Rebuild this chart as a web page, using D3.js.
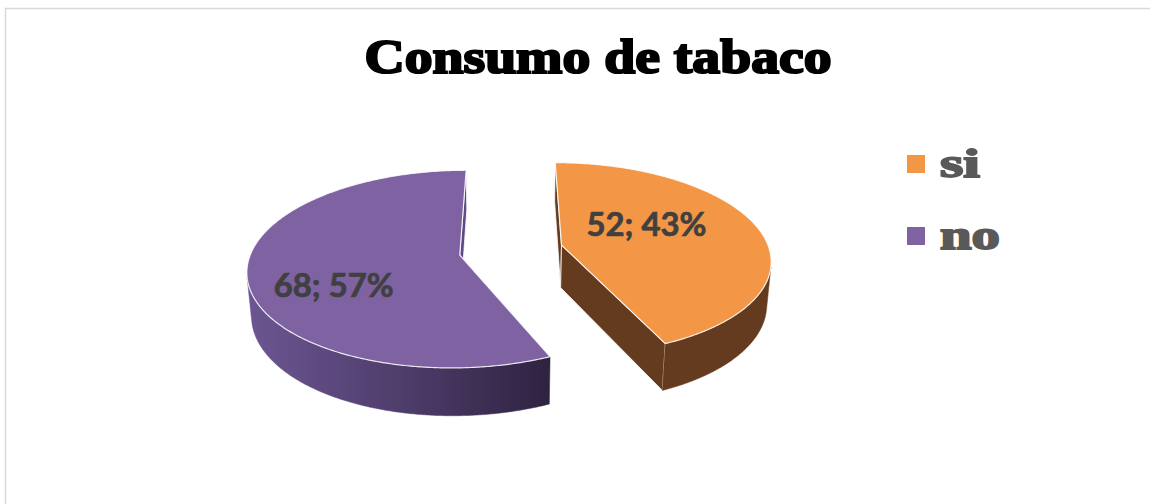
<!DOCTYPE html>
<html>
<head>
<meta charset="utf-8">
<script src="https://cdn.jsdelivr.net/npm/d3@7"></script>
<style>
    html, body { margin: 0; padding: 0; background: #fff; }
    svg { display: block; }
</style>
</head>
<body>
<script>
// data
const categories = ['si', 'no'];
const values = [52, 68];
const title = 'Consumo de tabaco';

// colours per slice (top, side)
const topColors = ['#F39645', '#7E62A1'];
const sideColors = ['#643B1E', '#5E4A86'];
const labelRadius = [0.49, 0.64];

const width = 1150,
    height = 504;

const svg = d3.select('body').append('svg')
    .attr('width', width)
    .attr('height', height);

// chart border (cropped)
svg.append('rect')
    .attr('x', 5.5).attr('y', 8.5)
    .attr('width', 1160).attr('height', 510)
    .attr('fill', 'none')
    .attr('stroke', '#d9d9d9')
    .attr('stroke-width', 1.5);

// gradient for the purple wall
const defs = svg.append('defs');
const grad = defs.append('linearGradient')
    .attr('id', 'wallNo')
    .attr('gradientUnits', 'userSpaceOnUse')
    .attr('x1', 247).attr('y1', 0)
    .attr('x2', 552).attr('y2', 0);
grad.append('stop').attr('offset', '0%').attr('stop-color', '#6C5692');
grad.append('stop').attr('offset', '50%').attr('stop-color', '#4F3D6C');
grad.append('stop').attr('offset', '100%').attr('stop-color', '#2E2240');

// 3d projection
const R = 208, thick = 49, explode = 52;
const phi = 27.3 * Math.PI / 180, L = 1305;
const cx = 511, cy = 250;
const camZ = -L * Math.cos(phi);

function proj(X, Y, Z) {
    let yc = Y * Math.cos(phi) + Z * Math.sin(phi);
    let dc = L + Z * Math.cos(phi) - Y * Math.sin(phi);
    return [cx + L * X / dc, cy - L * yc / dc];
}

const pie = d3.pie().sort(null).value(d => d);
const arcs = pie(values);
const total = d3.sum(values);
const line = d3.line();
const step = Math.PI / 360;

arcs.forEach((d, i) => {
    let mid = (d.startAngle + d.endAngle) / 2;
    let ox = explode * Math.sin(mid),
        oz = explode * Math.cos(mid);
    let rim = (t, y) => proj(ox + R * Math.sin(t), y, oz + R * Math.cos(t));
    let center = y => proj(ox, y, oz);
    let g = svg.append('g');

    // radial faces
    let faces = [
        {a: d.startAngle, n: [-Math.cos(d.startAngle), Math.sin(d.startAngle)]},
        {a: d.endAngle, n: [Math.cos(d.endAngle), -Math.sin(d.endAngle)]}
    ];
    faces.forEach(f => {
        let dot = f.n[0] * (0 - ox) + f.n[1] * (camZ - oz);
        if (dot <= 0) return;
        let pts = [center(0), rim(f.a, 0), rim(f.a, -thick), center(-thick)];
        g.append('path')
            .attr('d', line(pts) + 'Z')
            .attr('fill', sideColors[i])
            .attr('stroke', '#fff')
            .attr('stroke-width', 1)
            .attr('stroke-opacity', 0.8);
    });

    // outer wall, only the part that faces the viewer
    let visible = t => {
        let px = ox + R * Math.sin(t), pz = oz + R * Math.cos(t);
        return Math.sin(t) * (0 - px) + Math.cos(t) * (camZ - pz) > 0;
    };
    let runs = [], cur = null;
    for (let t = d.startAngle; t <= d.endAngle + 1e-9; t += step) {
        let tt = Math.min(t, d.endAngle);
        if (visible(tt)) {
            if (!cur) { cur = []; runs.push(cur); }
            cur.push(tt);
        } else {
            cur = null;
        }
    }
    runs.forEach(run => {
        let top = run.map(t => rim(t, 0));
        let bottom = run.slice().reverse().map(t => rim(t, -thick));
        g.append('path')
            .attr('d', line(top.concat(bottom)) + 'Z')
            .attr('fill', i === 1 ? 'url(#wallNo)' : sideColors[i])
            .attr('stroke', i === 1 ? 'url(#wallNo)' : sideColors[i])
            .attr('stroke-width', 0.5);
    });

    // top face
    let topPts = [center(0)];
    for (let t = d.startAngle; t < d.endAngle; t += step) topPts.push(rim(t, 0));
    topPts.push(rim(d.endAngle, 0));
    g.append('path')
        .attr('d', line(topPts) + 'Z')
        .attr('fill', topColors[i])
        .attr('stroke', '#fff')
        .attr('stroke-width', 1.2)
        .attr('stroke-opacity', 0.85)
        .attr('stroke-linejoin', 'round');

    // data label
    let la = mid - 16 * Math.PI / 180;
    let lr = labelRadius[i] * R;
    let lp = proj(ox + lr * Math.sin(la), 0, oz + lr * Math.cos(la));
    g.append('text')
        .attr('x', lp[0])
        .attr('y', lp[1])
        .attr('dy', '0.36em')
        .attr('text-anchor', 'middle')
        .attr('font-family', 'Lato, "Open Sans", sans-serif')
        .attr('font-weight', 'bold')
        .attr('font-size', 33)
        .attr('textLength', 120)
        .attr('lengthAdjust', 'spacingAndGlyphs')
        .attr('fill', '#404040')
        .attr('stroke', '#404040')
        .attr('stroke-width', 0.7)
        .text(values[i] + '; ' + Math.round(values[i] / total * 100) + '%');
});

// title
svg.append('text')
    .attr('x', 598)
    .attr('y', 73)
    .attr('text-anchor', 'middle')
    .attr('font-family', '"Liberation Serif", "DejaVu Serif", serif')
    .attr('font-weight', 'bold')
    .attr('font-size', 49)
    .attr('textLength', 467)
    .attr('lengthAdjust', 'spacingAndGlyphs')
    .attr('fill', '#000')
    .attr('stroke', '#000')
    .attr('stroke-width', 2.2)
    .text(title);

// legend
const legendY = d3.scalePoint().domain(categories).range([164, 236]);
const legendWidths = [40, 60];
const legend = svg.append('g');
categories.forEach((c, i) => {
    legend.append('rect')
        .attr('x', 907)
        .attr('y', legendY(c) - 9)
        .attr('width', 18)
        .attr('height', 18)
        .attr('fill', topColors[i]);
    legend.append('text')
        .attr('x', 940)
        .attr('y', legendY(c) + 13)
        .attr('font-family', '"Liberation Serif", "DejaVu Serif", serif')
        .attr('font-weight', 'bold')
        .attr('font-size', 40)
        .attr('textLength', legendWidths[i])
        .attr('lengthAdjust', 'spacingAndGlyphs')
        .attr('fill', '#595959')
        .attr('stroke', '#595959')
        .attr('stroke-width', 1.8)
        .text(c);
});
</script>
</body>
</html>
